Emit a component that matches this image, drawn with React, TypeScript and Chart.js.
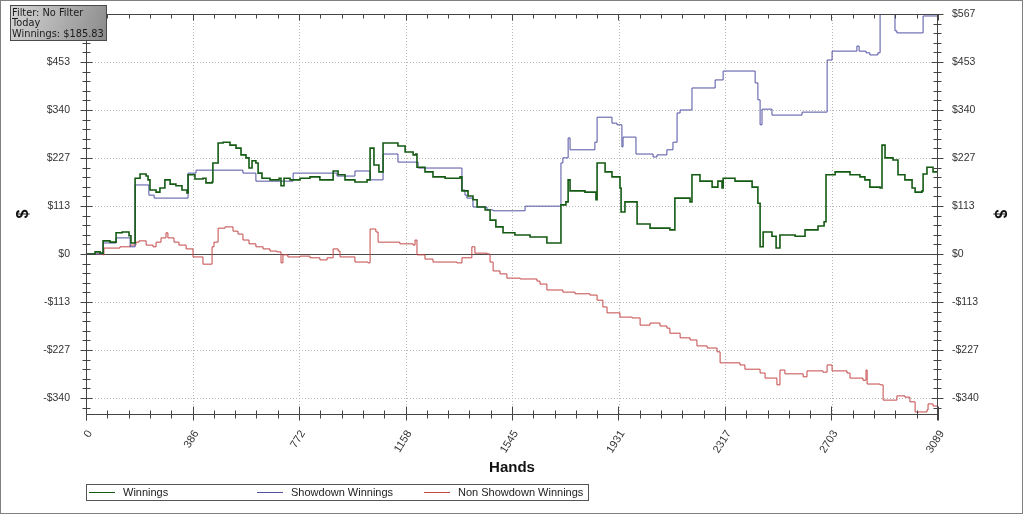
import React, { useEffect, useRef } from 'react';
import { Chart, registerables } from 'chart.js';

Chart.register(...registerables);

// ---- data (hands, dollars) ----
const winnings: [number, number][] = [
  [0, 0], [33, 5], [51, 2], [62, 31], [87, 28], [109, 50], [131, 52], [156, 43], [163, 26],
  [178, 179], [196, 189], [218, 184], [225, 175], [232, 151], [254, 146], [268, 156], [286, 175],
  [305, 165], [326, 161], [348, 151], [366, 144], [370, 187], [395, 177], [424, 179], [435, 168],
  [457, 170], [460, 215], [479, 262], [497, 264], [522, 257], [544, 250], [562, 234], [580, 227],
  [591, 203], [602, 220], [616, 215], [624, 191], [638, 179], [667, 175], [700, 179], [707, 161],
  [718, 179], [740, 175], [776, 179], [812, 182], [848, 175], [896, 196], [914, 187], [939, 175],
  [975, 170], [1019, 175], [1030, 250], [1044, 210], [1062, 194], [1077, 262], [1102, 262],
  [1131, 255], [1157, 241], [1186, 234], [1196, 236], [1200, 205], [1229, 194], [1258, 182],
  [1302, 179], [1356, 182], [1363, 149], [1385, 137], [1403, 128], [1418, 111], [1447, 104],
  [1465, 80], [1486, 64], [1512, 50], [1555, 45], [1610, 40], [1671, 26], [1719, 26], [1722, 116],
  [1740, 123], [1748, 175], [1755, 149], [1809, 146], [1849, 128], [1853, 215], [1882, 194],
  [1907, 182], [1936, 156], [1940, 99], [1954, 123], [1998, 71], [2045, 61], [2117, 57],
  [2135, 132], [2190, 123], [2197, 187], [2226, 172], [2270, 158], [2291, 172], [2306, 156],
  [2310, 179], [2353, 172], [2415, 158], [2436, 120], [2444, 17], [2455, 52], [2487, 42],
  [2502, 14], [2516, 45], [2571, 42], [2607, 57], [2654, 66], [2676, 76], [2683, 187], [2716, 194],
  [2770, 187], [2806, 182], [2824, 175], [2842, 158], [2879, 156], [2886, 257], [2897, 227],
  [2926, 222], [2944, 187], [2969, 175], [2995, 156], [3006, 146], [3031, 149], [3035, 189],
  [3049, 205], [3071, 194], [3089, 186],
];

const showdownWinnings: [number, number][] = [
  [0, 0], [62, 26], [109, 38], [160, 17], [178, 163], [228, 139], [247, 132], [370, 191],
  [399, 198], [569, 191], [616, 172], [751, 191], [910, 184], [975, 196], [1030, 175],
  [1077, 236], [1131, 217], [1204, 203], [1363, 151], [1374, 139], [1381, 132], [1403, 111],
  [1454, 104], [1476, 102], [1592, 113], [1722, 215], [1729, 227], [1748, 274], [1755, 246],
  [1845, 264], [1853, 323], [1907, 309], [1925, 305], [1943, 253], [1947, 276], [1994, 236],
  [2056, 229], [2070, 234], [2106, 246], [2128, 264], [2143, 333], [2154, 340], [2197, 392],
  [2281, 411], [2310, 432], [2426, 404], [2436, 364], [2444, 305], [2451, 342], [2487, 328],
  [2596, 335], [2687, 458], [2705, 479], [2795, 491], [2803, 479], [2828, 475], [2842, 470],
  [2871, 475], [2879, 568], [2933, 527], [2940, 522], [3035, 562], [3089, 562],
];

const nonShowdownWinnings: [number, number][] = [
  [0, 0], [62, -2], [65, 14], [123, 17], [160, 21], [181, 28], [192, 31], [218, 21], [243, 17],
  [254, 28], [272, 38], [290, 50], [297, 38], [319, 28], [337, 21], [363, 12], [388, -7],
  [424, -24], [457, 17], [464, 28], [479, 61], [504, 64], [533, 54], [551, 47], [569, 33],
  [591, 24], [616, 17], [642, 12], [667, 7], [692, 5], [707, -21], [714, -2], [732, -7],
  [776, -5], [812, -9], [848, -14], [874, -9], [896, 12], [914, 7], [921, -7], [975, -19],
  [1022, -21], [1030, 59], [1051, 52], [1059, 28], [1102, 28], [1138, 24], [1186, 21],
  [1193, 33], [1200, -2], [1229, -12], [1258, -19], [1345, -21], [1363, -9], [1399, 17],
  [1410, 2], [1454, 0], [1465, -19], [1476, -40], [1501, -47], [1526, -57], [1574, -59],
  [1635, -64], [1646, -71], [1671, -85], [1729, -90], [1773, -94], [1827, -97], [1853, -109],
  [1874, -125], [1889, -139], [1936, -149], [1980, -151], [2009, -168], [2045, -163],
  [2081, -170], [2106, -175], [2117, -187], [2154, -198], [2190, -203], [2215, -217],
  [2252, -222], [2288, -231], [2299, -257], [2371, -262], [2389, -272], [2444, -281],
  [2462, -293], [2498, -293], [2505, -309], [2516, -274], [2534, -283], [2600, -290],
  [2614, -276], [2672, -279], [2687, -262], [2705, -276], [2759, -281], [2770, -293],
  [2817, -298], [2828, -274], [2832, -307], [2879, -309], [2890, -345], [2933, -345],
  [2940, -335], [2969, -338], [2987, -349], [3006, -373], [3049, -368], [3053, -354],
  [3071, -359], [3089, -364],
];

const seriesNames = ['Winnings', 'Showdown Winnings', 'Non Showdown Winnings'];
const seriesColors = ['#135a13', '#5252a4', '#c44848'];

const xTickValues = [0, 386.125, 772.25, 1158.375, 1544.5, 1930.625, 2316.75, 2702.875, 3089];
const xTickLabels = ['0', '386', '772', '1158', '1545', '1931', '2317', '2703', '3089'];
const yTickValues = [-340, -226.667, -113.333, 0, 113.333, 226.667, 340, 453.333, 566.667];
const yTickLabels = ['-$340', '-$227', '-$113', '$0', '$113', '$227', '$340', '$453', '$567'];
const X_MIN = 0;
const X_MAX = 3089;
const Y_MIN = -377.78;
const Y_MAX = 566.667;
const X_MINOR = 3089 / 40;
const Y_MINOR = 113.333 / 5;

const infoLines = ['Filter: No Filter', 'Today', 'Winnings: $185.83'];

const FONT = '"Liberation Sans", Arial, sans-serif';

const framePlugin = {
  id: 'frame',
  beforeDatasetsDraw(chart: any) {
    const { ctx, chartArea: a, scales } = chart;
    const xs = scales.x;
    const ys = scales.y;
    ctx.save();
    ctx.lineWidth = 1;
    ctx.strokeStyle = '#b8b8b8';
    ctx.setLineDash([1, 2]);
    xTickValues.forEach((v) => {
      if (v <= X_MIN || v >= X_MAX) return;
      const px = Math.round(xs.getPixelForValue(v)) + 0.5;
      ctx.beginPath();
      ctx.moveTo(px, a.top);
      ctx.lineTo(px, a.bottom);
      ctx.stroke();
    });
    yTickValues.forEach((v) => {
      if (v === 0 || v >= Y_MAX - 0.01) return;
      const py = Math.round(ys.getPixelForValue(v)) + 0.5;
      ctx.beginPath();
      ctx.moveTo(a.left, py);
      ctx.lineTo(a.right, py);
      ctx.stroke();
    });
    ctx.setLineDash([]);
    ctx.strokeStyle = '#4a4a4a';
    const zy = Math.round(ys.getPixelForValue(0)) + 0.5;
    ctx.beginPath();
    ctx.moveTo(a.left, zy);
    ctx.lineTo(a.right, zy);
    ctx.stroke();
    ctx.restore();
  },
  afterDatasetsDraw(chart: any) {
    const { ctx, chartArea: a, scales } = chart;
    const xs = scales.x;
    const ys = scales.y;
    ctx.save();
    ctx.lineWidth = 1;
    ctx.strokeStyle = '#444';
    const L = Math.round(a.left) + 0.5;
    const R = Math.round(a.right) - 0.5;
    const T = Math.round(a.top) + 0.5;
    const B = Math.round(a.bottom) + 0.5;
    const seg = (x1: number, y1: number, x2: number, y2: number) => {
      ctx.beginPath();
      ctx.moveTo(x1, y1);
      ctx.lineTo(x2, y2);
      ctx.stroke();
    };
    seg(L, T, L, B + 6);
    seg(R, T, R, B + 6);
    seg(L, B, R, B);
    seg(L, T, R, T);
    // y ticks
    const yStart = Math.ceil(Y_MIN / Y_MINOR) * Y_MINOR;
    for (let v = yStart; v <= Y_MAX + 0.01; v += Y_MINOR) {
      const major = yTickValues.some((t) => Math.abs(t - v) < 0.5);
      const py = Math.round(ys.getPixelForValue(v)) + 0.5;
      const len = major ? 6 : 4;
      seg(L - len, py, L + len, py);
      seg(R - len, py, R + len, py);
    }
    // x ticks
    for (let v = X_MIN; v <= X_MAX + 0.01; v += X_MINOR) {
      const major = xTickValues.some((t) => Math.abs(t - v) < 0.5);
      const px = Math.round(xs.getPixelForValue(v)) + 0.5;
      seg(px, B - (major ? 8 : 4), px, B + (major ? 6 : 4));
      seg(px, T, px, T + (major ? 6 : 4));
    }
    ctx.restore();
  },
  afterDraw(chart: any) {
    const { ctx } = chart;
    ctx.save();
    // legend
    ctx.lineWidth = 1;
    ctx.strokeStyle = '#555';
    ctx.strokeRect(86.5, 484.5, 502, 16);
    const entryX = [89, 257, 424];
    ctx.font = '11px ' + FONT;
    ctx.textBaseline = 'middle';
    ctx.textAlign = 'left';
    seriesNames.forEach((name, i) => {
      ctx.strokeStyle = seriesColors[i];
      ctx.beginPath();
      ctx.moveTo(entryX[i], 492.5);
      ctx.lineTo(entryX[i] + 26, 492.5);
      ctx.stroke();
      ctx.fillStyle = '#222';
      ctx.fillText(name, entryX[i] + 34, 493);
    });
    // info box
    const g = ctx.createLinearGradient(10, 5, 107, 41);
    g.addColorStop(0, '#d6d6d6');
    g.addColorStop(1, '#8a8a8a');
    ctx.fillStyle = g;
    ctx.fillRect(10, 5, 97, 36);
    ctx.strokeStyle = '#4a4a4a';
    ctx.strokeRect(10.5, 5.5, 96, 35);
    ctx.fillStyle = '#1a1a1a';
    ctx.font = '9.8px "DejaVu Sans", sans-serif';
    ctx.textBaseline = 'alphabetic';
    infoLines.forEach((t, i) => ctx.fillText(t, 12, 15.5 + i * 10.6));
    // outer border
    ctx.strokeStyle = '#808080';
    ctx.strokeRect(0.5, 0.5, 1022, 513);
    ctx.restore();
  },
};

function makeYScale(position: 'left' | 'right', width: number, pad: number) {
  return {
    type: 'linear',
    position,
    min: Y_MIN,
    max: Y_MAX,
    grid: { display: false, drawTicks: false },
    border: { display: false },
    ticks: {
      autoSkip: false,
      padding: pad,
      color: '#333',
      font: { family: FONT, size: 10.5 },
      callback: (_v: any, i: number) => yTickLabels[i],
    },
    title: {
      display: true,
      text: '$',
      color: '#111',
      font: { family: FONT, size: 16, weight: 'bold' },
      padding: { top: 14, bottom: 0 },
    },
    afterBuildTicks: (s: any) => {
      s.ticks = yTickValues.map((v) => ({ value: v }));
    },
    afterFit: (s: any) => {
      s.width = width;
      s.paddingTop = 0;
      s.paddingBottom = 0;
    },
  };
}

export default function App() {
  const ref = useRef<HTMLCanvasElement | null>(null);
  useEffect(() => {
    if (!ref.current) return;
    const mk = (pts: [number, number][], i: number) => ({
      label: seriesNames[i],
      data: pts.map(([x, y]) => ({ x, y })),
      borderColor: seriesColors[i],
      backgroundColor: seriesColors[i],
      borderWidth: i === 0 ? 1.6 : 1,
      pointRadius: 0,
      stepped: true,
      fill: false,
      yAxisID: 'y',
    });
    const chart = new Chart(ref.current, {
      type: 'line',
      data: {
        datasets: [mk(winnings, 0), mk(showdownWinnings, 1), mk(nonShowdownWinnings, 2)],
      },
      options: {
        animation: false,
        responsive: false,
        devicePixelRatio: 1,
        layout: { padding: { top: 14, left: 0, right: 0, bottom: 0 } },
        plugins: { legend: { display: false }, tooltip: { enabled: false } },
        scales: {
          x: {
            type: 'linear',
            position: 'bottom',
            min: X_MIN,
            max: X_MAX,
            grid: { display: false, drawTicks: false },
            border: { display: false },
            ticks: {
              autoSkip: false,
              minRotation: 58,
              maxRotation: 58,
              padding: 14,
              labelOffset: 4,
              color: '#333',
              font: { family: FONT, size: 11 },
              callback: (_v: any, i: number) => xTickLabels[i],
            },
            title: {
              display: true,
              text: 'Hands',
              color: '#111',
              font: { family: FONT, size: 15, weight: 'bold' },
              padding: { top: 0, bottom: 37 },
            },
            afterBuildTicks: (s: any) => {
              s.ticks = xTickValues.map((v) => ({ value: v }));
            },
            afterFit: (s: any) => {
              s.height = 100;
              s.paddingLeft = 0;
              s.paddingRight = 0;
            },
          },
          y: makeYScale('left', 86, 16) as any,
          y2: makeYScale('right', 85, 14) as any,
        },
      } as any,
      plugins: [framePlugin],
    });
    return () => chart.destroy();
  }, []);
  return (
    <div style={{ position: 'absolute', left: 0, top: 0, width: 1023, height: 514, background: '#fff' }}>
      <canvas ref={ref} width={1023} height={514} style={{ display: 'block' }} />
    </div>
  );
}
